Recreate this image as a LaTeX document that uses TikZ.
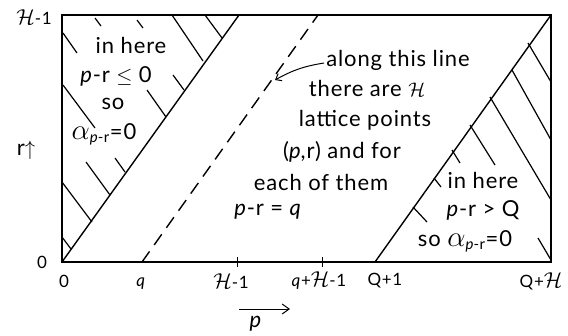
\documentclass[tikz,border=0pt]{standalone}
\usepackage{graphicx}
\usepackage{fontspec}
\setmainfont{Lato}[LetterSpace=4]
\usetikzlibrary{arrows.meta}
\newcommand{\cH}{\scalebox{1.25}{$\mathcal{H}$}}
\newcommand{\cHt}{\scalebox{0.95}{$\mathcal{H}$}}
\newcommand{\alf}{\scalebox{1.4}{$\alpha$}}
\newcommand{\subpr}{$_{\textit{\fontsize{15}{16}\selectfont p}\mbox{\fontsize{15}{16}\selectfont -r}}$}
\begin{document}
\begin{tikzpicture}[x=1pt,y=-1pt,
  frame/.style={line width=1.4pt},
  hatch/.style={line width=1.2pt},
  lab/.style={font=\fontsize{22}{24}\selectfont, inner sep=0pt},
  tick/.style={font=\fontsize{17}{19}\selectfont, inner sep=0pt}]
\useasboundingbox (0,0) rectangle (568,335);
% corners
\coordinate (BL) at (62,262);
\coordinate (TL) at (62,15);
\coordinate (TR) at (551,15);
\coordinate (BR) at (551,262);
\coordinate (D1) at (239,15);
\coordinate (Q1) at (375,262);
\coordinate (qb) at (142,262);
\coordinate (qt) at (318,15);
% frame
\draw[frame] (TL) -- (TR) -- (BR) -- (BL) -- cycle;
\draw[frame] (BL) -- (D1);
\draw[frame] (Q1) -- (TR);
\draw[frame, dash pattern=on 13pt off 8pt] (qb) -- (qt);
% ticks
\draw[line width=1pt] (237,257) -- (237,267);
\draw[line width=1pt] (322,257) -- (322,267);
% left hatching
\draw[hatch] (95,18) -- (101,26);
\draw[hatch] (137,20) -- (143,28);
\draw[hatch] (172,15) -- (203,61);
\draw[hatch] (205,15) -- (222,38);
\draw[hatch] (63,33) -- (77,53);
\draw[hatch] (173,75) -- (184,90);
\draw[hatch] (63,85) -- (95,128);
\draw[hatch] (147,90) -- (166,117);
\draw[hatch] (86,162) -- (110,195);
\draw[hatch] (115,158) -- (125,172);
\draw[hatch] (62,182) -- (92,222);
\draw[hatch] (62,237) -- (71,249);
% right hatching
\draw[hatch] (528,43) -- (551,82);
\draw[hatch] (512,70) -- (551,140);
\draw[hatch] (490,97) -- (551,200);
\draw[hatch] (470,125) -- (495,165);
\draw[hatch] (452,150) -- (460,163);
\draw[hatch] (434,178) -- (441,187);
\draw[hatch] (413,207) -- (427,222);
\draw[hatch] (538,238) -- (551,260);
% axis labels
\node[tick] (lH) at (34,17) {\cH-1};
\node[tick] (l0) at (42,262) {0};
\node[lab] (lr) at (26,150) {r$\uparrow$};
\node[tick] (t0) at (64,281) {0};
\node[tick] (tq) at (141,284) {\textit{q}};
\node[tick] (tH) at (231,281) {\cH-1};
\node[tick] (tqH) at (319,281) {\textit{q}+\cH-1};
\node[tick] (tQ) at (385,281) {Q+1};
\node[tick] (tQH) at (541,281) {Q+\cH};
\coordinate (pa) at (239,309);
\coordinate (pb) at (290,309);
\draw[line width=1pt,-{Straight Barb[length=7pt,width=10pt]}] (pa) -- (pb);
\node[lab] (pl) at (256,324) {\textit{p}};
% left texts
\node[lab] (a1) at (131,45) {in here};
\node[lab] (a2) at (116,76) {\textit{p}-r $\leq$ 0};
\node[lab] (a3) at (113,104) {so};
\node[lab] (a4) at (104,134) {\alf\subpr=0};
% middle texts
\node[lab] (m1) at (398,60) {along this line};
\node[lab] (m2) at (367,88) {there are \cHt};
\node[lab] (m3) at (365,120) {lattice points};
\node[lab] (m4) at (342,152) {(\textit{p},r) and for};
\node[lab] (m5) at (321,182) {each of them};
\node[lab] (m6) at (268,212) {\textit{p}-r = \textit{q}};
\coordinate (ar) at (275,80);
\draw[line width=1pt,-{Straight Barb[length=5pt,width=8pt]}] (m1.west) ++(-2,3) to[bend right=10] (ar);
% right texts
\node[lab] (r1) at (483,180) {in here};
\node[lab] (r2) at (483,210) {\textit{p}-r > Q};
\node[lab] (r3) at (465,241) {so \alf\subpr=0};
\end{tikzpicture}
\end{document}
